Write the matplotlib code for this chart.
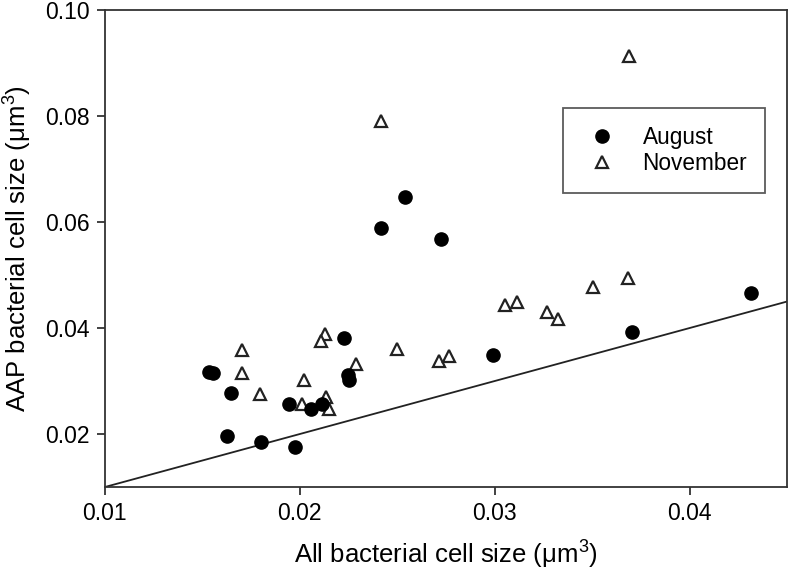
import numpy as np
import matplotlib
matplotlib.use('Agg')
import matplotlib.pyplot as plt

plt.rcParams['font.family'] = ['Liberation Sans', 'DejaVu Sans']
plt.rcParams['mathtext.fontset'] = 'custom'
plt.rcParams['mathtext.rm'] = 'Liberation Sans'
plt.rcParams['mathtext.it'] = 'Liberation Sans:italic'

# August samples (all cells vs AAP cells, um^3)
aug_x = [0.01535, 0.01555, 0.01648, 0.01627, 0.01802, 0.01977, 0.01946, 0.02059,
         0.02116, 0.02229, 0.02249, 0.02254, 0.02990, 0.03704, 0.04316, 0.02542,
         0.02419, 0.02722]
aug_y = [0.0317, 0.0315, 0.0277, 0.0196, 0.0185, 0.0176, 0.0257, 0.0247,
         0.0257, 0.0381, 0.0311, 0.0302, 0.0349, 0.0393, 0.0466, 0.0647,
         0.0589, 0.0568]

# November samples
nov_x = [0.01704, 0.01704, 0.01797, 0.02023, 0.02013, 0.02131, 0.02111, 0.02136,
         0.02152, 0.02290, 0.02501, 0.02712, 0.02763, 0.03051, 0.03113, 0.03267,
         0.03324, 0.03504, 0.03684, 0.02414, 0.03689]
nov_y = [0.0359, 0.0315, 0.0276, 0.0302, 0.0257, 0.0389, 0.0376, 0.0270,
         0.0247, 0.0332, 0.0360, 0.0338, 0.0347, 0.0443, 0.0449, 0.0430,
         0.0417, 0.0477, 0.0494, 0.0791, 0.0913]

# 1:1 line
line_x = [0.01, 0.045]

fig = plt.figure(figsize=(7.89, 5.76), dpi=100)
ax = fig.add_axes([0.133, 0.1545, 0.8645, 0.828])

ax.plot(line_x, line_x, color='#222222', lw=1.3, zorder=1)
ax.plot(aug_x, aug_y, 'o', color='black', markersize=9.5, label='August', zorder=3)
ax.plot(nov_x, nov_y, '^', markerfacecolor='white', markeredgecolor='#222222',
        markeredgewidth=1.6, markersize=8, label='November', zorder=2)

ax.set_xlim(0.01, 0.045)
ax.set_ylim(0.01, 0.10)
ax.set_xticks([0.01, 0.02, 0.03, 0.04])
ax.set_xticklabels(['0.01', '0.02', '0.03', '0.04'])
ax.set_yticks([0.02, 0.04, 0.06, 0.08, 0.10])
ax.set_yticklabels(['0.02', '0.04', '0.06', '0.08', '0.10'])

for s in ax.spines.values():
    s.set_color('#333333')
    s.set_linewidth(1.3)
ax.tick_params(axis='both', direction='out', length=6, width=1.3, color='#333333',
               labelsize=16.5, pad=5)
ax.tick_params(top=False, right=False)

ax.set_xlabel(r'All bacterial cell size ($\mathregular{\mu m^3}$)', fontsize=18.5, labelpad=10)
ax.set_ylabel(r'AAP bacterial cell size ($\mathregular{\mu m^3}$)', fontsize=18.5, labelpad=8)

leg = ax.legend(loc='upper left', bbox_to_anchor=(0.672, 0.795), fontsize=16.3,
                frameon=True, fancybox=False, edgecolor='#333333', borderpad=0.8,
                handletextpad=0.9, labelspacing=0.15, borderaxespad=0, handlelength=1.8)
leg.get_frame().set_linewidth(1.3)

fig.savefig('out.png', dpi=100)
